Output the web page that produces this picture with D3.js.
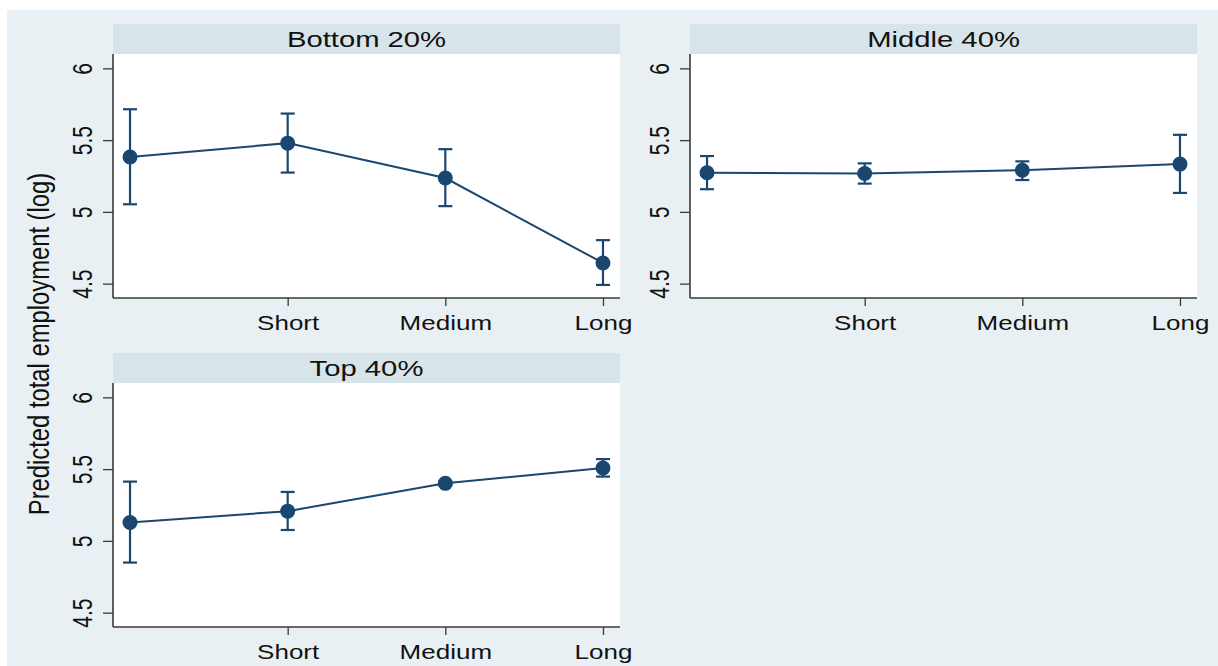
<!DOCTYPE html>
<html>
<head>
<meta charset="utf-8">
<script src="https://cdn.jsdelivr.net/npm/d3@7"></script>
<style>
  html, body { margin: 0; padding: 0; background: #ffffff; }
  svg { display: block; }
  text { font-family: "Liberation Sans", Arial, sans-serif; fill: #111; }
</style>
</head>
<body>
<svg id="chart" width="1218" height="666"></svg>
<script>
// Categories (first level has no label on the axis)
const categories = ["Base", "Short", "Medium", "Long"];
const tickLabels = ["", "Short", "Medium", "Long"];
const yTicks = [4.5, 5, 5.5, 6];
const yTickLabels = ["4.5", "5", "5.5", "6"];

// Predicted total employment (log) with 95% confidence bounds, per group
const bottom20Mean = [5.382, 5.479, 5.236, 4.644];
const bottom20Lo   = [5.053, 5.274, 5.040, 4.491];
const bottom20Hi   = [5.715, 5.685, 5.437, 4.803];

const middle40Mean = [5.273, 5.267, 5.290, 5.333];
const middle40Lo   = [5.158, 5.197, 5.222, 5.132];
const middle40Hi   = [5.389, 5.338, 5.352, 5.537];

const top40Mean = [5.128, 5.207, 5.401, 5.508];
const top40Lo   = [4.849, 5.076, 5.388, 5.448];
const top40Hi   = [5.413, 5.341, 5.414, 5.570];

const panelTitles = ["Bottom 20%", "Middle 40%", "Top 40%"];
const yTitle = "Predicted total employment (log)";

const panels = [
  { title: panelTitles[0], mean: bottom20Mean, lo: bottom20Lo, hi: bottom20Hi, x: 113, y: 54 },
  { title: panelTitles[1], mean: middle40Mean, lo: middle40Lo, hi: middle40Hi, x: 690, y: 54 },
  { title: panelTitles[2], mean: top40Mean, lo: top40Lo, hi: top40Hi, x: 113, y: 383 }
];

const W = 507, H = 244, stripH = 30;
const navy = "#1a476f";
const axisCol = "#3a3a3a";
const sx = 1.3; // horizontal text stretch

const svg = d3.select("#chart");

// graph region background
svg.append("rect").attr("x", 7).attr("y", 10).attr("width", 1211).attr("height", 656)
  .attr("fill", "#e8f0f3");

// Y axis title
svg.append("text")
  .attr("transform", "translate(49,344) scale(1.22,1) rotate(-90)")
  .attr("text-anchor", "middle")
  .attr("font-size", 23.8)
  .text(yTitle);

const xScale = d3.scalePoint().domain(categories).range([0, W]).padding(0.108);
const yScale = d3.scaleLinear().domain([4.4, 6.1]).range([H, 0]);

panels.forEach(p => {
  const g = svg.append("g").attr("transform", `translate(${p.x},${p.y})`);

  // strip
  g.append("rect").attr("x", 0).attr("y", -stripH).attr("width", W).attr("height", stripH)
    .attr("fill", "#d7e4ea");
  g.append("text")
    .attr("transform", `translate(${W / 2},${-7}) scale(${sx},1)`)
    .attr("text-anchor", "middle").attr("font-size", 22.5)
    .text(p.title);

  // plot region
  g.append("rect").attr("width", W).attr("height", H).attr("fill", "#ffffff");

  // y axis
  const yAxis = g.append("g").call(
    d3.axisLeft(yScale).tickValues(yTicks).tickSize(10).tickFormat("")
  );
  yAxis.select(".domain").attr("d", `M0,0V${H}`).attr("stroke", axisCol).attr("stroke-width", 1.6);
  yAxis.selectAll(".tick line").attr("stroke", axisCol).attr("stroke-width", 1.3);
  yAxis.selectAll(".tick").each(function (d, i) {
    d3.select(this).append("text")
      .attr("transform", `translate(-21,0) scale(${sx},1) rotate(-90)`)
      .attr("text-anchor", "middle").attr("font-size", 21)
      .attr("fill", "#111")
      .text(yTickLabels[yTicks.indexOf(d)]);
  });

  // x axis
  const xAxis = g.append("g").attr("transform", `translate(0,${H})`).call(
    d3.axisBottom(xScale).tickValues(categories.slice(1)).tickSize(8).tickFormat("")
  );
  xAxis.select(".domain").attr("d", `M0,0H${W}`).attr("stroke", axisCol).attr("stroke-width", 1.6);
  xAxis.selectAll(".tick line").attr("stroke", axisCol).attr("stroke-width", 1.3);
  xAxis.selectAll(".tick").each(function (d) {
    d3.select(this).append("text")
      .attr("transform", `translate(0,32) scale(${sx},1)`)
      .attr("text-anchor", "middle").attr("font-size", 20)
      .attr("fill", "#111")
      .text(tickLabels[categories.indexOf(d)]);
  });

  const rows = categories.map((c, i) => ({ c, m: p.mean[i], lo: p.lo[i], hi: p.hi[i] }));

  // confidence intervals
  const ci = g.append("g").attr("stroke", navy).attr("stroke-width", 2.2).attr("fill", "none");
  rows.forEach(r => {
    const x = xScale(r.c);
    ci.append("line").attr("x1", x).attr("x2", x).attr("y1", yScale(r.lo)).attr("y2", yScale(r.hi));
    ci.append("line").attr("x1", x - 7).attr("x2", x + 7).attr("y1", yScale(r.lo)).attr("y2", yScale(r.lo));
    ci.append("line").attr("x1", x - 7).attr("x2", x + 7).attr("y1", yScale(r.hi)).attr("y2", yScale(r.hi));
  });

  // connecting line
  g.append("path").datum(rows)
    .attr("fill", "none").attr("stroke", navy).attr("stroke-width", 2)
    .attr("d", d3.line().x(r => xScale(r.c)).y(r => yScale(r.m)));

  // markers
  g.selectAll("circle.pt").data(rows).join("circle").attr("class", "pt")
    .attr("cx", r => xScale(r.c)).attr("cy", r => yScale(r.m)).attr("r", 7.5)
    .attr("fill", navy);
});
</script>
</body>
</html>
